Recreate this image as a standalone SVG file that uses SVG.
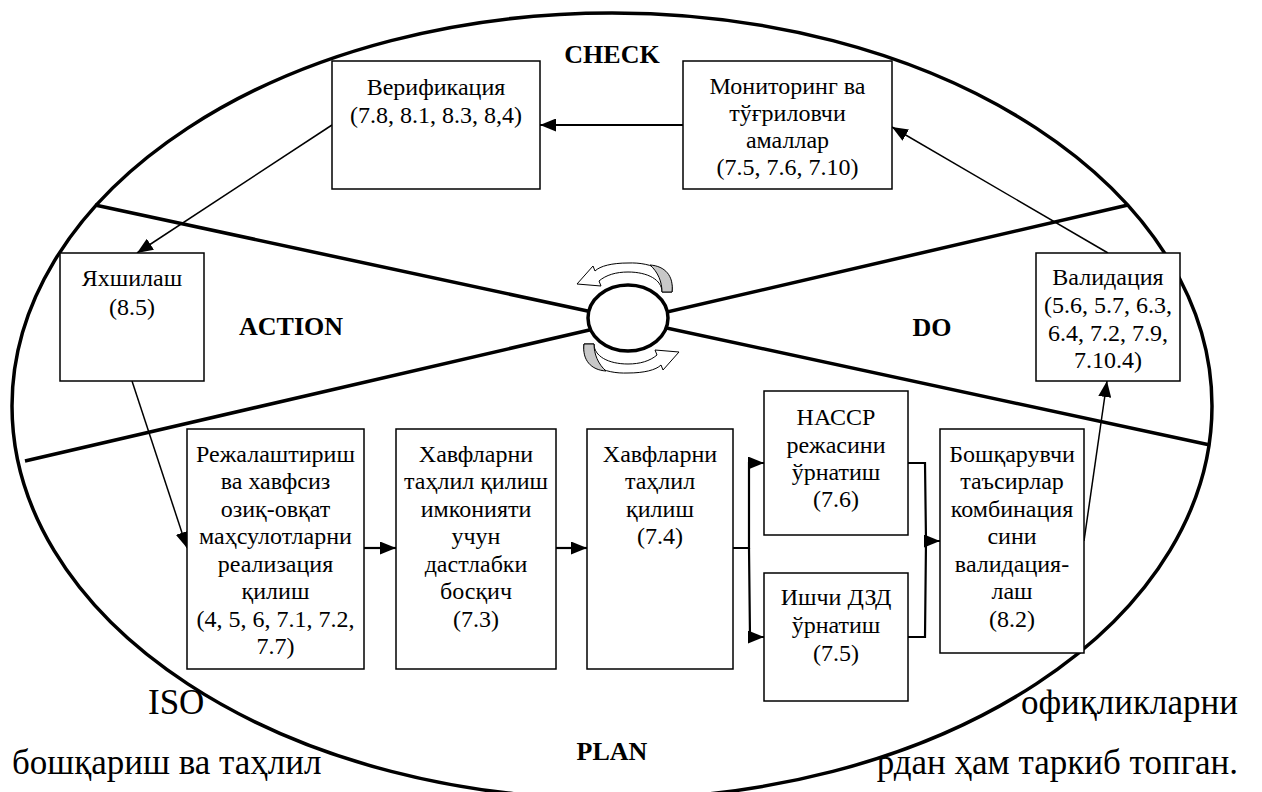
<svg xmlns="http://www.w3.org/2000/svg" width="1262" height="792" viewBox="0 0 1262 792" font-family="'Liberation Serif', 'DejaVu Serif', serif">
<defs>
<style>
text{font-family:'Liberation Serif','DejaVu Serif',serif;fill:#000}
.body{font-size:35px}
.t{font-size:24px;text-anchor:middle}
.lbl{font-size:26px;font-weight:bold;text-anchor:middle}
.box{fill:#fff;stroke:#000;stroke-width:1.5}
.thick{fill:none;stroke:#000;stroke-width:3.5}
.c1{fill:none;stroke:#000;stroke-width:1.5}
.c2{fill:none;stroke:#000;stroke-width:2.2}
</style>
<marker id="ah" markerUnits="userSpaceOnUse" markerWidth="16" markerHeight="13" refX="16" refY="6.5" orient="auto">
<path d="M0,0 L16,6.5 L0,13 Z" fill="#000"/>
</marker>
</defs>
<rect width="1262" height="792" fill="#fff"/>
<g id="background-text">
<text class="body" x="148" y="714">ISO</text>
<text class="body" x="1238" y="714" text-anchor="end">офиқликларни</text>
<text class="body" x="12" y="774">бошқариш ва таҳлил</text>
<text class="body" x="1238" y="774" text-anchor="end">рдан ҳам таркиб топган.</text>
</g>
<g id="cycle">
<ellipse cx="612" cy="406" rx="600" ry="393" fill="#fff" stroke="#000" stroke-width="3.5"/>
<line class="thick" x1="95" y1="205" x2="1210" y2="445"/>
<line class="thick" x1="25" y1="461" x2="1128" y2="205"/>
<ellipse cx="628" cy="318" rx="40" ry="33" fill="#fff" stroke="#000" stroke-width="3.5"/>
<g id="curved-arrows" stroke="#000" stroke-width="1">
<g>
<path d="M672 292 C674 272 652 262 628 263 C612 263 600 266 595 271 L593 266 L577 284 L601 286 L599 281 C606 275 616 272 628 272 C648 272 662 280 662 292 Z" fill="#fff"/>
<path d="M672 292 C674 276 665 266 650 265 C658 272 662 282 662 292 Z" fill="#c8c8c8"/>
</g>
<g transform="rotate(180 628 318)">
<path d="M672 292 C674 272 652 262 628 263 C612 263 600 266 595 271 L593 266 L577 284 L601 286 L599 281 C606 275 616 272 628 272 C648 272 662 280 662 292 Z" fill="#fff"/>
<path d="M672 292 C674 276 665 266 650 265 C658 272 662 282 662 292 Z" fill="#c8c8c8"/>
</g>
</g>
<text class="lbl" x="612" y="63">CHECK</text>
<text class="lbl" x="291" y="335">ACTION</text>
<text class="lbl" x="932" y="336">DO</text>
<text class="lbl" x="612" y="760">PLAN</text>
</g>
<g id="connectors">
<path class="c2" d="M683 125 H540" marker-end="url(#ah)"/>
<path class="c1" d="M332 125 L137 253" marker-end="url(#ah)"/>
<path class="c1" d="M132 381 L187 548" marker-end="url(#ah)"/>
<path class="c2" d="M364 548 H396" marker-end="url(#ah)"/>
<path class="c2" d="M556 548 H587" marker-end="url(#ah)"/>
<path class="c2" d="M733 548 H749 V463 H764" marker-end="url(#ah)"/>
<path class="c2" d="M749 548 L750 637 H764" marker-end="url(#ah)"/>
<path class="c2" d="M908 463 H925 L926 541 H940" marker-end="url(#ah)"/>
<path class="c2" d="M908 637 H925 L926 541"/>
<path class="c1" d="M1084 541 L1107 381" marker-end="url(#ah)"/>
<path class="c1" d="M1108 253 L892 127" marker-end="url(#ah)"/>
</g>
<g id="verifikatsiya">
<rect class="box" x="332" y="61" width="208" height="128"/>
<text class="t" x="436" y="95">Верификация</text>
<text class="t" x="436" y="123">(7.8, 8.1, 8.3, 8,4)</text>
</g>
<g id="monitoring">
<rect class="box" x="683" y="61" width="209" height="128"/>
<text class="t" x="787.5" y="94">Мониторинг ва</text>
<text class="t" x="787.5" y="121">тўғриловчи</text>
<text class="t" x="787.5" y="148">амаллар</text>
<text class="t" x="787.5" y="175">(7.5, 7.6, 7.10)</text>
</g>
<g id="yakhshilash">
<rect class="box" x="60" y="253" width="144" height="128"/>
<text class="t" x="132" y="286">Яхшилаш</text>
<text class="t" x="132" y="315">(8.5)</text>
</g>
<g id="validatsiya">
<rect class="box" x="1036" y="253" width="144" height="128"/>
<text class="t" x="1108" y="285">Валидация</text>
<text class="t" x="1108" y="313">(5.6, 5.7, 6.3,</text>
<text class="t" x="1108" y="341">6.4, 7.2, 7.9,</text>
<text class="t" x="1108" y="368">7.10.4)</text>
</g>
<g id="rejalashtirish">
<rect class="box" x="187" y="429" width="177" height="240"/>
<text class="t" x="275.5" y="462">Режалаштириш</text>
<text class="t" x="275.5" y="489">ва хавфсиз</text>
<text class="t" x="275.5" y="517">озиқ-овқат</text>
<text class="t" x="275.5" y="544">маҳсулотларни</text>
<text class="t" x="275.5" y="572">реализация</text>
<text class="t" x="275.5" y="599">қилиш</text>
<text class="t" x="275.5" y="627">(4, 5, 6, 7.1, 7.2,</text>
<text class="t" x="275.5" y="654">7.7)</text>
</g>
<g id="dastlabki">
<rect class="box" x="396" y="429" width="160" height="240"/>
<text class="t" x="476" y="462">Хавфларни</text>
<text class="t" x="476" y="489">таҳлил қилиш</text>
<text class="t" x="476" y="517">имконияти</text>
<text class="t" x="476" y="544">учун</text>
<text class="t" x="476" y="572">дастлабки</text>
<text class="t" x="476" y="599">босқич</text>
<text class="t" x="476" y="627">(7.3)</text>
</g>
<g id="tahlil">
<rect class="box" x="587" y="429" width="146" height="240"/>
<text class="t" x="660" y="462">Хавфларни</text>
<text class="t" x="660" y="489">таҳлил</text>
<text class="t" x="660" y="517">қилиш</text>
<text class="t" x="660" y="544">(7.4)</text>
</g>
<g id="haccp">
<rect class="box" x="764" y="391" width="144" height="144"/>
<text class="t" x="836" y="425">НАССР</text>
<text class="t" x="836" y="453">режасини</text>
<text class="t" x="836" y="480">ўрнатиш</text>
<text class="t" x="836" y="507">(7.6)</text>
</g>
<g id="dzd">
<rect class="box" x="764" y="573" width="144" height="128"/>
<text class="t" x="836" y="605">Ишчи ДЗД</text>
<text class="t" x="836" y="633">ўрнатиш</text>
<text class="t" x="836" y="661">(7.5)</text>
</g>
<g id="boshqaruvchi">
<rect class="box" x="940" y="429" width="144" height="224"/>
<text class="t" x="1012" y="462">Бошқарувчи</text>
<text class="t" x="1012" y="489">таъсирлар</text>
<text class="t" x="1012" y="517">комбинация</text>
<text class="t" x="1012" y="544">сини</text>
<text class="t" x="1012" y="572">валидация-</text>
<text class="t" x="1012" y="599">лаш</text>
<text class="t" x="1012" y="627">(8.2)</text>
</g>
</svg>
